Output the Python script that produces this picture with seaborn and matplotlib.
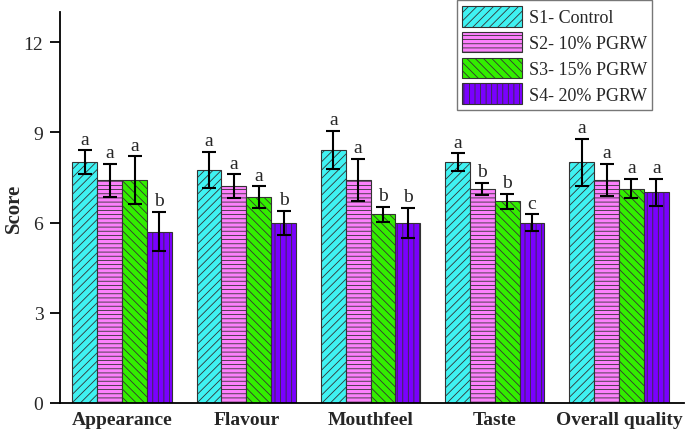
import matplotlib
matplotlib.use("Agg")
import matplotlib.pyplot as plt
import seaborn as sns
import pandas as pd

attributes = ['Appearance', 'Flavour', 'Mouthfeel', 'Taste', 'Overall quality']
samples = ['S1- Control', 'S2- 10% PGRW', 'S3- 15% PGRW', 'S4- 20% PGRW']

s1_mean = [8.0, 7.75, 8.42, 8.0, 8.0]
s2_mean = [7.4, 7.2, 7.42, 7.13, 7.42]
s3_mean = [7.4, 6.85, 6.27, 6.7, 7.13]
s4_mean = [5.7, 6.0, 6.0, 6.0, 7.0]

s1_err = [0.4, 0.6, 0.63, 0.3, 0.78]
s2_err = [0.55, 0.4, 0.7, 0.2, 0.53]
s3_err = [0.8, 0.35, 0.25, 0.25, 0.33]
s4_err = [0.65, 0.4, 0.5, 0.27, 0.46]

s1_lett = ['a', 'a', 'a', 'a', 'a']
s2_lett = ['a', 'a', 'a', 'b', 'a']
s3_lett = ['a', 'a', 'b', 'b', 'a']
s4_lett = ['b', 'b', 'b', 'c', 'a']

means = [s1_mean, s2_mean, s3_mean, s4_mean]
errs = [s1_err, s2_err, s3_err, s4_err]
letters = [s1_lett, s2_lett, s3_lett, s4_lett]

colors = ['#3ff2f2', '#fb80fb', '#33ee00', '#7a00ff']
hatches = ['////', '----', '\\\\\\\\', '|||']

rows = []
for s, m in zip(samples, means):
    for a, v in zip(attributes, m):
        rows.append({'attr': a, 'sample': s, 'score': v})
df = pd.DataFrame(rows)

sns.set_style('ticks')
plt.rcParams['font.family'] = ['Liberation Serif', 'DejaVu Serif']
plt.rcParams['hatch.linewidth'] = 0.6

fig = plt.figure(figsize=(6.85, 4.35), dpi=100)
ax = fig.add_axes([60 / 685, 1 - 404 / 435, 1 - 60 / 685 - 0.002, (404 - 13) / 435])

sns.barplot(data=df, x='attr', y='score', hue='sample', order=attributes,
            hue_order=samples, palette=dict(zip(samples, colors)),
            saturation=1, errorbar=None, width=0.8, gap=0, edgecolor='#333333',
            linewidth=0.8, legend=False, ax=ax)

for cont, h, e, lt in zip(ax.containers, hatches, errs, letters):
    xs, ys = [], []
    for p in cont:
        p.set_hatch(h)
        xs.append(p.get_x() + p.get_width() / 2)
        ys.append(p.get_height())
    ax.errorbar(xs, ys, yerr=e, fmt='none', ecolor='black', elinewidth=1.5,
                capsize=5, capthick=1.5, zorder=5)
    for x, y, err, t in zip(xs, ys, e, lt):
        ax.annotate(t, (x, y + err), xytext=(0, 2), textcoords='offset points',
                    ha='center', va='bottom', fontsize=14)

ax.legend(ax.containers, samples, loc='upper right', bbox_to_anchor=(0.95, 1.03),
          fontsize=13, frameon=True, fancybox=False, edgecolor='#555555',
          handlelength=3.3, handleheight=1.4, labelspacing=0.28,
          handletextpad=0.4, borderpad=0.3, borderaxespad=0)

ax.set_ylim(0, 13)
ax.set_xlim(-0.5, 4.52)
ax.set_yticks([0, 3, 6, 9, 12])
ax.set_xlabel('')
ax.set_ylabel('Score', fontsize=15, fontweight='bold')
ax.yaxis.set_label_coords(-0.058, 0.5)
ax.tick_params(axis='y', labelsize=14, length=7, width=1.3, direction='out',
               color='black', pad=5)
ax.tick_params(axis='x', length=0, pad=6)
for lab in ax.get_xticklabels():
    lab.set_fontweight('bold')
    lab.set_fontsize(14)
sns.despine(ax=ax)
ax.spines['left'].set_linewidth(1.3)
ax.spines['bottom'].set_linewidth(1.3)
ax.spines['left'].set_color('black')
ax.spines['bottom'].set_color('black')

fig.savefig('out.png', dpi=100)
